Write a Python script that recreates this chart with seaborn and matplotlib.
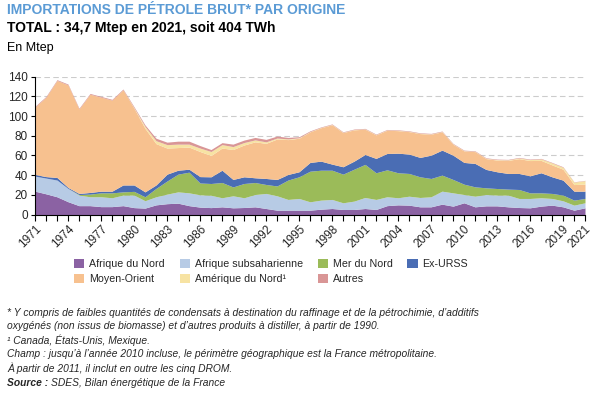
import matplotlib
matplotlib.use("Agg")
import matplotlib.pyplot as plt
from matplotlib.patches import Patch
import seaborn as sns
import pandas as pd

years = list(range(1971, 2022))

afrique_nord = [23.7, 21, 18, 13, 9, 9, 8, 8, 9, 7, 6.5, 9.8, 11, 11.5, 9, 7.5, 7, 7.8, 6.8, 7.1,
                7.8, 6.1, 4.4, 4.4, 4.4, 4.4, 5.4, 6.1, 5.1, 5.1, 6.1, 5.1, 9, 9.8, 9.5, 7.8, 7.8,
                10.5, 8.5, 11.9, 7.8, 8.8, 8.8, 7.8, 7.1, 6.8, 8.5, 9.5, 7.8, 4.4, 6.8]
afrique_subsah = [15.3, 16, 17, 13.5, 10.7, 9, 10, 9, 10.7, 12.7, 7.5, 8.2, 9.7, 11.5, 13, 12.5, 12.5,
                  9.2, 12.2, 9.9, 12.5, 15.3, 14.6, 10.9, 11.9, 8.5, 9.2, 9.2, 6.8, 8.5, 11.2, 10.2,
                  9, 7.2, 9.1, 9.5, 10.2, 13.2, 13.5, 8.4, 10.8, 11.5, 10.9, 11.9, 9.2, 9.5, 8.5,
                  6.8, 6.1, 5.1, 5.1]
mer_du_nord = [0, 0, 0, 0, 0.6, 2.7, 4, 5, 3.3, 3.8, 4, 8.5, 13.3, 18, 21, 12, 12, 15.5, 9, 14.5,
               12.2, 9.1, 10, 19.7, 22, 31.1, 30.4, 29.7, 29.1, 32.4, 33.6, 27.1, 27.4, 25.4, 23.1,
               21, 18.6, 16.3, 13.6, 10.5, 9.5, 6.8, 6.7, 6.1, 9.1, 5.7, 5, 5.1, 5.8, 5.1, 4.4]
ex_urss = [1.7, 1.5, 2.6, 1, 1.1, 1.7, 1.7, 1.7, 7, 6.5, 5, 3.5, 7, 4, 3, 6.5, 6.8, 12.5, 7.6, 6.8,
           4.8, 6.1, 6.6, 5.7, 5.1, 8.9, 9.2, 6.2, 7.5, 8.2, 10.1, 14.6, 16.6, 19.9, 19.7, 19.7,
           23.7, 25.4, 24.7, 22.1, 23.8, 18.7, 17, 15.9, 16.3, 17.3, 20.4, 16.9, 15.2, 9.1, 7.4]
moyen_orient = [68.5, 80.7, 98.6, 104.2, 85.8, 99.8, 95.5, 92.5, 96.7, 78, 64.5, 42, 26.5, 23, 22.5,
                25.5, 21.7, 22.5, 30.4, 32.3, 36.5, 35.7, 41.1, 35.4, 34.1, 31.1, 34, 40, 34.7,
                31.8, 25.7, 23.9, 23.6, 22.9, 22.8, 24.2, 21.3, 18.6, 11.1, 11.7, 12, 11, 11.9,
                13.3, 15, 15.5, 12.6, 12.1, 11.1, 6.7, 7.2]
amerique_nord = [0, 0, 0, 0, 0, 0, 0, 0, 0, 0.5, 2, 3, 3.5, 3.5, 3, 3.5, 4, 3.5, 3, 2.5, 2, 1.5, 1,
                 0.7, 0.5, 0.3, 0.3, 0.3, 0.3, 0.3, 0.3, 0.3, 0.3, 0.3, 0.3, 0.3, 0.3, 0.3, 0.3,
                 0.3, 0.3, 0.3, 0.5, 0.5, 0.8, 1, 1.5, 2, 2, 2.5, 3.5]
autres = [0.8, 0.8, 0.8, 0.8, 0.8, 0.8, 0.8, 0.8, 0.8, 1, 1.5, 2.5, 2.5, 3, 3, 2.5, 2, 2, 2.5, 2.5,
          2.5, 2.5, 2, 1.5, 1, 0.7, 0.5, 0.5, 0.5, 0.5, 0.5, 0.5, 0.5, 0.5, 0.5, 0.5, 0.5, 0.5,
          0.5, 0.5, 0.5, 0.5, 0.5, 0.5, 0.5, 0.5, 0.5, 0.5, 0.5, 0.3, 0.3]

labels = ["Afrique du Nord", "Afrique subsaharienne", "Mer du Nord", "Ex-URSS",
          "Moyen-Orient", "Amérique du Nord¹", "Autres"]
colors = ["#8B62A3", "#B7CBE5", "#9BBB59", "#4A6DB4", "#F7C18F", "#F7E3A3", "#D99696"]

xtick_years = list(range(1971, 2020, 3)) + [2021]

df = pd.DataFrame({"Année": years,
                   labels[0]: afrique_nord, labels[1]: afrique_subsah, labels[2]: mer_du_nord,
                   labels[3]: ex_urss, labels[4]: moyen_orient, labels[5]: amerique_nord,
                   labels[6]: autres})

sns.set_theme(style="white")
plt.rcParams["font.family"] = ["Liberation Sans", "DejaVu Sans"]

fig = plt.figure(figsize=(5.97, 3.95), dpi=100)
ax = fig.add_axes([35 / 597, 1 - 214.5 / 395, 550 / 597, (214.5 - 76.7) / 395])

ax.stackplot(df["Année"], [df[l] for l in labels], colors=colors, linewidth=0)

ax.set_xlim(1971, 2021)
ax.set_ylim(0, 140)
ax.set_yticks(range(0, 141, 20))
ax.set_xticks(xtick_years)
ax.set_xticks(years, minor=True)
ax.set_xticklabels([str(y) for y in xtick_years], rotation=45, ha="right",
                   rotation_mode="anchor", fontsize=8.5)
ax.tick_params(axis="y", labelsize=8.5, length=3, width=0.8, color="black", left=True, pad=2)
ax.tick_params(axis="x", which="both", length=4, width=0.8, color="black", bottom=True, pad=2)
for y in range(20, 141, 20):
    ax.axhline(y, color="#CCCCCC", linestyle=(0, (5, 3)), linewidth=0.8, zorder=0)
ax.set_axisbelow(True)
for s in ["top", "right"]:
    ax.spines[s].set_visible(False)
for s in ["left", "bottom"]:
    ax.spines[s].set_color("black")
    ax.spines[s].set_linewidth(0.8)
ax.set_xlabel("")
ax.set_ylabel("")

fig.text(7 / 597, 1 - 3 / 395, "IMPORTATIONS DE PÉTROLE BRUT* PAR ORIGINE", color="#5B9BD5",
         fontsize=10, fontweight="bold", va="top", ha="left")
fig.text(7 / 597, 1 - 21 / 395, "TOTAL : 34,7 Mtep en 2021, soit 404 TWh", color="black",
         fontsize=10, fontweight="bold", va="top", ha="left")
fig.text(7 / 597, 1 - 42 / 395, "En Mtep", color="black", fontsize=9, va="top", ha="left")

handles = [Patch(facecolor=c, edgecolor="none") for c in colors]
order = [0, 4, 1, 5, 2, 6, 3]
fig.legend([handles[i] for i in order], [labels[i] for i in order], ncol=4, loc="upper left",
           bbox_to_anchor=(74 / 597, 1 - 259 / 395),
           frameon=False, fontsize=7.7, handlelength=0.95, handleheight=0.95, handletextpad=0.45,
           columnspacing=1.4, labelspacing=0.45, borderaxespad=0, borderpad=0)

notes = [
    (313, "* Y compris de faibles quantités de condensats à destination du raffinage et de la pétrochimie, d’additifs"),
    (326, "oxygénés (non issus de biomasse) et d’autres produits à distiller, à partir de 1990."),
    (340, "¹ Canada, États-Unis, Mexique."),
    (354, "Champ : jusqu’à l’année 2010 incluse, le périmètre géographique est la France métropolitaine."),
    (368, "À partir de 2011, il inclut en outre les cinq DROM."),
]
fs = 7.4
for yp, t in notes:
    fig.text(7 / 597, 1 - yp / 395, t, fontsize=fs, style="italic", va="center", ha="left")
src = fig.text(7 / 597, 1 - 383 / 395, "Source :", fontsize=fs, style="italic",
               fontweight="bold", va="center", ha="left")
fig.canvas.draw()
bb = src.get_window_extent()
fig.text((bb.x1 + 3) / 597, 1 - 383 / 395, "SDES, Bilan énergétique de la France", fontsize=fs,
         style="italic", va="center", ha="left")

fig.savefig("out.png", dpi=100)
